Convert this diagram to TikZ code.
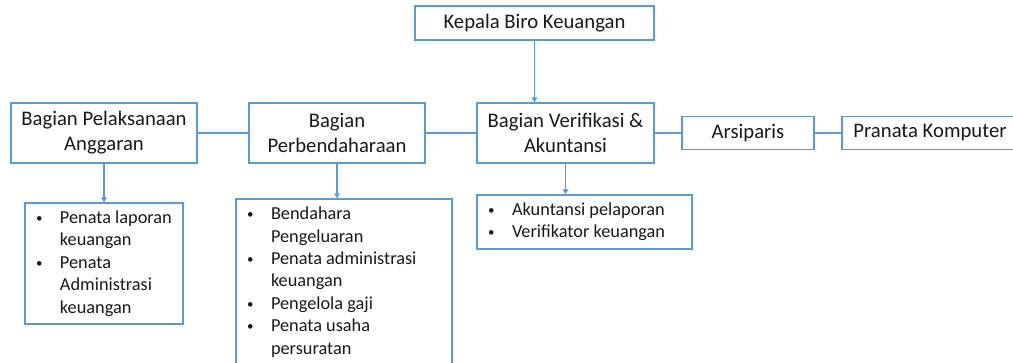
\documentclass[tikz,border=0pt]{standalone}
\usepackage{fontspec}
\setmainfont{Carlito}
\usetikzlibrary{arrows.meta}
\definecolor{officeblue}{RGB}{91,155,213}
\newcommand{\bul}[1]{\makebox[35pt][l]{\hspace*{11pt}\raisebox{1pt}{\fontsize{13}{0}\selectfont\textbullet}}#1}
\newcommand{\cnt}[1]{\hspace*{35pt}#1}

\begin{document}
\begin{tikzpicture}[x=1pt,y=1pt,
  unit/.style={draw=officeblue,line width=1.3pt,fill=white,align=center,inner sep=0pt,
    text=black!90,font=\fontsize{20.7}{25}\selectfont},
  duties/.style={draw=officeblue,line width=1.3pt,fill=white,inner sep=0pt,align=flush left,
    text=black!90,font=\fontsize{18.3}{22.4}\selectfont},
  link/.style={draw=officeblue,line width=1.3pt},
  feed/.style={link,-{Triangle[length=5pt,width=5.5pt]}}]
  \useasboundingbox (0,0) rectangle (1013,-362);
  % head
  \node[unit,minimum width=239,minimum height=34] (kepala) at (534.5,-23) {Kepala Biro Keuangan};
  % units
  \node[unit,minimum width=186,minimum height=60] (pelaksanaan) at (104,-133) {Bagian Pelaksanaan\\Anggaran};
  \node[unit,minimum width=176,minimum height=60] (perbendaharaan) at (337,-133) {Bagian\\Perbendaharaan};
  \node[unit,minimum width=177,minimum height=60] (verifikasi) at (565.5,-133) {Bagian Verifikasi \&\\Akuntansi};
  \node[unit,minimum width=132,minimum height=33] (arsiparis) at (748,-133) {Arsiparis};
  \node[unit,minimum width=176,minimum height=33] (pranata) at (930,-133) {Pranata Komputer};
  % duty lists
  \node[duties,text width=158,minimum height=121] (tugasA) at (104,-263.5)
    {\bul{Penata laporan}\\\cnt{keuangan}\\\bul{Penata}\\\cnt{Administrasi}\\\cnt{keuangan}};
  \node[duties,text width=216,minimum height=166] (tugasB) at (344,-282)
    {\bul{Bendahara}\\\cnt{Pengeluaran}\\\bul{Penata administrasi}\\\cnt{keuangan}\\\bul{Pengelola gaji}\\\bul{Penata usaha}\\\cnt{persuratan}};
  \node[duties,text width=215,minimum height=54] (tugasC) at (584.5,-222)
    {\bul{Akuntansi pelaporan}\\\bul{Verifikator keuangan}};
  % connectors
  \draw[link] (pelaksanaan.east) -- (perbendaharaan.west);
  \draw[link] (perbendaharaan.east) -- (verifikasi.west);
  \draw[link] (verifikasi.east) -- (arsiparis.west);
  \draw[link] (arsiparis.east) -- (pranata.west);
  \draw[feed] (kepala.south) -- (kepala.south |- verifikasi.north);
  \draw[feed] (pelaksanaan.south) -- (tugasA.north);
  \draw[feed] (perbendaharaan.south) -- (perbendaharaan.south |- tugasB.north);
  \draw[feed] (verifikasi.south) -- (verifikasi.south |- tugasC.north);
\end{tikzpicture}
\end{document}
